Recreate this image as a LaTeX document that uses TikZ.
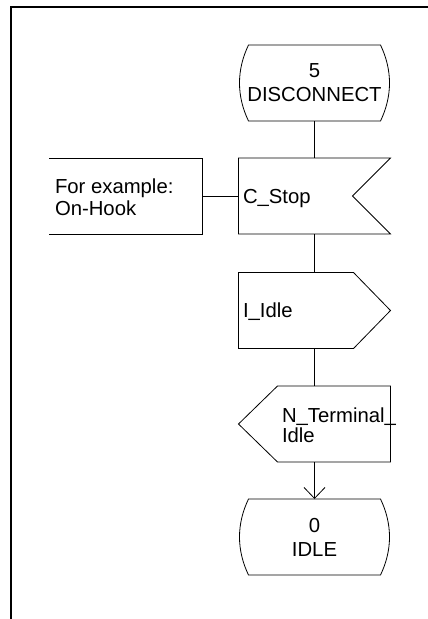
\documentclass[tikz,border=0pt]{standalone}
\usepackage{fontspec}
\setmainfont{Liberation Sans}
\usetikzlibrary{arrows.meta,calc}
\newcommand\usc{\raisebox{1pt}{\_}}
\begin{document}
\begin{tikzpicture}[x=1pt,y=-1pt,
  every node/.style={font=\fontsize{20.3}{23}\selectfont, inner sep=0pt, outer sep=0pt},
  area/.style={draw=none, rectangle, minimum width=152pt, minimum height=76pt, align=center},
  ln/.style={line width=0.8pt, draw=black},
  frameline/.style={line width=2pt, draw=black},
  lbl/.style={anchor=base west},
  flowarrow/.style={ln, -{Straight Barb[length=11pt,width=21pt,line width=0.8pt]}}
]
\useasboundingbox (0,0) rectangle (428,619);
% page frame
\draw[frameline] (11,619) -- (11,7) -- (428,7);

% start state
\node[area] (disc) at (314.5,83) {5\\[1pt]DISCONNECT};
\draw[ln] ($(disc.north west)+(10,0)$) -- ($(disc.north east)+(-10,0)$)
  .. controls ($(disc.north east)+(2,25)$) and ($(disc.south east)+(2,-25)$) .. ($(disc.south east)+(-10,0)$)
  -- ($(disc.south west)+(10,0)$)
  .. controls ($(disc.south west)+(-2,-25)$) and ($(disc.north west)+(-2,25)$) .. cycle;

% input C_Stop
\node[area] (cstop) at (314.5,196) {};
\draw[ln] (cstop.north west) -- (cstop.north east) -- ($(cstop.east)+(-38,0)$)
  -- (cstop.south east) -- (cstop.south west) -- cycle;
\node[lbl] (cstopt) at (243,203) {C\usc Stop};

% comment
\node[area, minimum width=153pt] (cmt) at (125.5,196) {};
\draw[ln] (cmt.north west) -- (cmt.north east) -- (cmt.south east) -- (cmt.south west);
\node[lbl] (cmt1) at (55,193) {For example:};
\node[lbl] (cmt2) at (55,215) {On-Hook};
\draw[ln] (cmt.east) -- (cstop.west);

% output I_Idle
\node[area] (iidle) at (314.5,310.5) {};
\draw[ln] (iidle.north west) -- ($(iidle.north east)+(-37,0)$) -- (iidle.east)
  -- ($(iidle.south east)+(-37,0)$) -- (iidle.south west) -- cycle;
\node[lbl] (iidlet) at (243,317) {I\usc Idle};

% N_Terminal_Idle
\node[area] (nterm) at (314.5,424) {};
\draw[ln] ($(nterm.north west)+(39,0)$) -- (nterm.north east) -- (nterm.south east)
  -- ($(nterm.south west)+(39,0)$) -- (nterm.west) -- cycle;
\node[lbl] (nterm1) at (282,422) {N\usc Terminal\usc};
\node[lbl] (nterm2) at (282,442) {Idle};

% next state
\node[area] (idle) at (314.5,537) {0\\[1pt]IDLE};
\draw[ln] ($(idle.north west)+(10,0)$) -- ($(idle.north east)+(-10,0)$)
  .. controls ($(idle.north east)+(2,25)$) and ($(idle.south east)+(2,-25)$) .. ($(idle.south east)+(-10,0)$)
  -- ($(idle.south west)+(10,0)$)
  .. controls ($(idle.south west)+(-2,-25)$) and ($(idle.north west)+(-2,25)$) .. cycle;

% flow lines
\draw[ln] (disc.south) -- (cstop.north);
\draw[ln] (cstop.south) -- (iidle.north);
\draw[ln] (iidle.south) -- (nterm.north);
\draw[flowarrow] (nterm.south) -- (idle.north);
\end{tikzpicture}
\end{document}
